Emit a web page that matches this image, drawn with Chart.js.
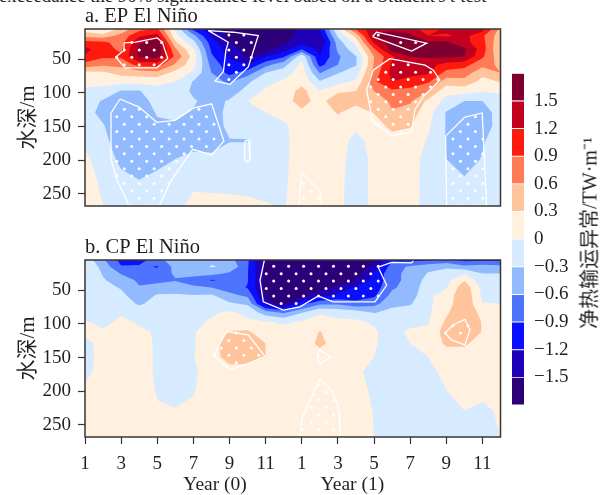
<!DOCTYPE html>
<html>
<head>
<meta charset="utf-8">
<title>net heat transport anomaly</title>
<script src="https://cdn.jsdelivr.net/npm/chart.js@4"></script>
<style>
html, body { margin: 0; padding: 0; background: #fff; overflow: hidden; }
#page { position: relative; width: 603px; height: 495px; overflow: hidden; }
canvas { position: absolute; }
#caption { position: absolute; left: -1px; top: -15px; white-space: nowrap; font: 18.8px "Liberation Serif", serif; color: #231f20; }
#barTitle { position: absolute; left: 588px; top: 233px; white-space: nowrap; font: 20px "Liberation Serif", "Noto Sans CJK SC", serif; color: #231f20; transform: translate(-50%, -50%) rotate(-90deg); }
</style>
</head>
<body>
<div id="page">
  <div id="caption">exceedance the 90% significance level based on a Student's <i>t</i> test</div>
  <canvas id="chartEP" width="510" height="215" style="left:0;top:0"></canvas>
  <canvas id="chartCP" width="510" height="265" style="left:0;top:230px"></canvas>
  <canvas id="chartBar" width="90" height="360" style="left:512px;top:60px"></canvas>
  <div id="barTitle">净热输运异常/TW·m⁻¹</div>
</div>
<script>
const months = [1,2,3,4,5,6,7,8,9,10,11,12,13,14,15,16,17,18,19,20,21,22,23,24];
const depths = [5,15,25,35,46,58,70,83,97,112,129,149,171,198,229,268];
const monthTicks = [1,3,5,7,9,11,13,15,17,19,21,23];
const monthLabels = ['1','3','5','7','9','11','1','3','5','7','9','11'];
const depthTicks = [50,100,150,200,250];
const levels = [-1.5,-1.2,-0.9,-0.6,-0.3,0,0.3,0.6,0.9,1.2,1.5];
const bandColors = ['#2c0078','#2000b8','#0a10ff','#4d73ff','#91baff','#d6ebff','#fff0e0','#ffc49c','#ff7a55','#ff1a10','#c20020','#7f0030'];
const barTicks = [1.5,1.2,0.9,0.6,0.3,0,-0.3,-0.6,-0.9,-1.2,-1.5];
const barEdges = [-1.8,-1.5,-1.2,-0.9,-0.6,-0.3,0,0.3,0.6,0.9,1.2,1.5,1.8];

// one line per month, values by depth
const epValues = [
  [0.15,0.5,1.0,1.3,1.15,0.8,0.2,0.08,-0.05,-0.15,-0.2,-0.15,-0.05,0.05,0.1,0.15],
  [-0.1,0.45,0.95,1.0,0.95,0.65,0.25,0.1,-0.1,-0.33,-0.38,-0.28,-0.2,-0.12,-0.05,0.0],
  [0.4,0.7,0.8,0.85,0.95,0.7,0.4,0.1,-0.32,-0.4,-0.45,-0.5,-0.5,-0.38,-0.22,-0.1],
  [0.8,1.15,1.45,1.58,1.55,1.0,0.45,0.1,-0.32,-0.42,-0.5,-0.52,-0.52,-0.45,-0.3,-0.12],
  [0.95,1.3,1.7,1.8,1.6,1.05,0.5,0.08,-0.1,-0.2,-0.27,-0.36,-0.45,-0.42,-0.2,-0.12],
  [-0.05,0.1,0.35,0.65,0.83,0.55,0.2,0.0,-0.1,-0.15,-0.25,-0.33,-0.42,-0.3,-0.2,-0.05],
  [-1.0,-0.5,-0.2,0.05,0.18,0.1,-0.05,-0.32,-0.36,-0.27,-0.32,-0.45,-0.42,-0.22,-0.04,0.05],
  [-1.35,-1.25,-1.05,-0.95,-0.85,-0.7,-0.6,-0.5,-0.45,-0.4,-0.38,-0.42,-0.4,-0.25,-0.05,0.05],
  [-1.7,-1.6,-1.5,-1.35,-1.25,-1.1,-1.0,-0.65,-0.45,-0.27,-0.25,-0.24,-0.31,-0.2,-0.06,0.05],
  [-1.75,-1.75,-1.7,-1.6,-1.55,-1.2,-0.75,-0.35,-0.2,0.0,-0.1,-0.2,-0.31,-0.2,-0.07,0.04],
  [-1.75,-1.8,-1.75,-1.6,-1.2,-0.7,-0.3,-0.1,0.05,0.1,0.0,-0.1,-0.15,-0.15,-0.1,0.02],
  [-1.6,-1.65,-1.55,-1.35,-0.95,-0.4,-0.15,0.05,0.12,0.2,0.1,-0.05,-0.06,-0.05,-0.04,-0.02],
  [-1.45,-1.4,-1.3,-0.9,-0.08,0.1,0.15,0.2,0.4,0.4,0.25,0.15,0.12,0.12,0.13,0.15],
  [-1.2,-1.35,-1.55,-1.3,-1.2,-1.0,-0.62,-0.28,0.02,0.2,0.12,0.1,0.1,0.1,0.1,0.1],
  [0.05,-0.25,-0.45,-0.55,-0.65,-0.6,-0.32,-0.1,0.25,0.5,0.33,0.15,0.1,0.08,0.06,0.05],
  [0.95,0.4,0.1,-0.1,-0.32,-0.33,-0.12,0.05,0.3,0.4,0.15,0.05,-0.07,-0.1,-0.1,-0.1],
  [1.4,1.55,1.25,0.85,0.6,0.62,0.72,0.85,0.6,0.45,0.32,0.12,0.08,0.05,0.05,0.05],
  [1.45,1.6,1.65,1.65,1.15,1.25,1.3,1.2,0.85,0.65,0.58,0.4,0.15,0.08,0.1,0.1],
  [1.4,1.55,1.7,1.7,1.5,1.3,1.35,1.0,0.85,0.65,0.45,0.32,0.15,0.1,0.1,0.1],
  [0.95,1.2,1.55,1.65,1.55,1.3,1.25,0.95,0.6,0.22,0.12,0.05,-0.03,-0.08,-0.1,-0.1],
  [1.3,1.15,1.55,1.7,1.55,1.1,0.8,0.45,0.1,-0.1,-0.32,-0.32,-0.32,-0.3,-0.2,-0.18],
  [1.35,1.3,1.3,1.55,1.5,1.0,0.75,0.5,0.12,-0.3,-0.55,-0.58,-0.55,-0.45,-0.27,-0.2],
  [1.35,0.95,1.0,1.05,0.95,0.7,0.4,0.2,0.03,-0.3,-0.5,-0.48,-0.33,-0.28,-0.2,-0.15],
  [0.5,0.42,0.35,0.28,0.4,0.55,0.6,0.32,0.02,-0.05,-0.12,-0.15,-0.15,-0.15,-0.12,-0.1]
];
const cpValues = [
  [-0.1,0.03,0.03,-0.05,-0.1,-0.15,-0.15,-0.1,0.02,0.05,-0.08,-0.15,-0.1,0.05,0.1,0.1],
  [-0.55,-0.42,-0.33,-0.27,-0.22,-0.17,-0.13,-0.1,-0.06,0.03,0.1,0.15,0.15,0.15,0.15,0.15],
  [-1.0,-0.88,-0.62,-0.45,-0.32,-0.23,-0.18,-0.03,0.05,0.1,0.15,0.15,0.15,0.15,0.15,0.15],
  [-1.05,-0.85,-0.75,-0.65,-0.58,-0.45,-0.33,-0.18,-0.03,0.05,0.15,0.15,0.15,0.15,0.15,0.15],
  [-0.7,-0.92,-0.8,-0.7,-0.45,-0.27,-0.22,-0.15,-0.1,-0.03,-0.05,-0.05,-0.05,-0.02,0.02,0.05],
  [-0.45,-0.5,-0.55,-0.62,-0.45,-0.25,-0.2,-0.15,-0.12,-0.1,-0.1,-0.1,-0.1,-0.06,0.01,0.05],
  [-0.4,-0.45,-0.5,-0.72,-0.55,-0.28,-0.2,-0.15,-0.1,-0.02,-0.02,-0.01,-0.05,-0.02,0.05,0.08],
  [-0.35,-0.28,-0.5,-0.92,-0.6,-0.25,-0.18,-0.05,0.05,0.12,0.15,0.15,0.15,0.15,0.15,0.15],
  [-0.5,-0.35,-0.65,-0.85,-0.75,-0.5,-0.25,0.05,0.1,0.32,0.5,0.45,0.15,0.12,0.12,0.12],
  [-0.85,-0.87,-0.88,-0.88,-0.92,-0.65,-0.35,-0.08,0.05,0.35,0.55,0.45,0.15,0.12,0.12,0.12],
  [-1.65,-1.65,-1.6,-1.6,-1.6,-1.55,-1.4,-0.45,0.02,0.12,0.3,0.3,0.15,0.12,0.12,0.12],
  [-1.8,-1.8,-1.8,-1.8,-1.8,-1.8,-1.6,-0.65,-0.03,0.08,0.12,0.12,0.12,0.12,0.12,0.12],
  [-1.8,-1.8,-1.8,-1.8,-1.75,-1.6,-1.0,-0.32,0.02,0.08,0.05,0.1,0.1,0.1,0.1,0.1],
  [-1.75,-1.75,-1.75,-1.75,-1.65,-1.3,-0.65,-0.02,0.08,0.32,0.4,0.1,0.1,0.1,0.1,0.1],
  [-1.75,-1.75,-1.75,-1.65,-1.45,-1.1,-0.65,-0.08,0.05,0.1,0.1,0.1,0.1,0.1,0.1,0.1],
  [-1.75,-1.75,-1.7,-1.5,-1.15,-1.05,-0.8,-0.15,0.05,0.1,0.1,0.1,0.05,0.1,0.1,0.1],
  [-1.55,-1.4,-1.15,-1.1,-1.05,-0.95,-0.7,-0.32,-0.03,0.03,0.03,0.0,-0.08,-0.05,-0.01,0.0],
  [-0.95,-0.75,-0.7,-0.72,-0.65,-0.5,-0.38,-0.2,-0.1,-0.1,-0.12,-0.12,-0.15,-0.15,-0.12,-0.1],
  [-1.0,-0.55,-0.5,-0.48,-0.45,-0.45,-0.33,-0.15,-0.08,0.05,0.0,-0.05,-0.1,-0.15,-0.15,-0.15],
  [-0.95,-0.4,-0.28,-0.2,-0.15,-0.05,-0.05,-0.05,-0.02,0.05,0.1,0.0,-0.05,-0.1,-0.12,-0.15],
  [-0.8,-0.35,-0.15,-0.1,-0.02,0.12,0.15,0.25,0.35,0.45,0.35,0.15,0.05,0.0,-0.1,-0.15],
  [-1.0,-0.5,-0.02,0.28,0.5,0.55,0.55,0.55,0.55,0.6,0.35,0.15,0.1,0.05,0.0,-0.1],
  [-0.95,-0.45,-0.3,-0.2,-0.1,-0.05,0.01,0.2,0.28,0.28,0.15,0.1,0.08,0.04,-0.03,-0.1],
  [-0.95,-0.5,-0.3,-0.2,-0.15,-0.1,0.0,0.05,0.05,0.05,0.05,0.05,0.05,0.03,0.02,0.0]
];

// significance outlines, [month, depth]
const epOutlines = [
  [[3.16,25.5],[3.8,24.5],[5,18.3],[5.28,24.5],[5.58,49],[4.97,62.7],[3.21,62.7],[2.7,46.6],[3.16,36.8],[3.16,25.5]],
  [[7.83,7.4],[8.93,24.6],[8.8,36.8],[8.66,68.6],[8.2,82.4],[9.03,87.2],[10.04,61.3],[10.59,14.7],[9.21,9.8],[7.83,7.4]],
  [[2.94,109],[4,121],[4.97,143.7],[5.98,140.7],[7,122.6],[8.01,116.2],[8.69,171.6],[8.01,192.2],[6.96,183.8],[5.7,232.9],[5.11,268],[3.45,268],[2.75,228],[2.44,198.5],[2.44,129.8],[2.94,109]],
  [[9.95,170],[10.08,171.6],[10.13,200],[9.99,202.5],[9.82,198.5],[9.86,171.6],[9.95,170]],
  [[16.92,16.2],[17.14,9.8],[19.91,26],[19.08,37.8],[16.92,16.2]],
  [[17.88,49],[19.82,58.8],[20.28,66.2],[20.65,80.9],[19.72,105.4],[19.26,125],[19.08,158.4],[17.97,163.2],[16.92,142.2],[16.59,95.6],[16.95,66.2],[17.88,49]],
  [[22.03,135.8],[22.99,129.8],[23.23,268],[21.02,268],[20.96,164.2],[22.03,135.8]],
  [[12.99,218],[14,245],[14.09,268],[12.84,268],[12.99,218]]
];
const cpOutlines = [
  [[10.93,5],[10.69,35.3],[10.87,67.2],[11.98,79.4],[12.9,74.5],[13.91,58.3],[14.74,67.2],[17.05,67.2],[17.7,42.6],[17.23,15.7],[17.97,8.4],[19.08,9.3],[19.2,5]],
  [[8.1,147],[8.84,111.3],[10.04,116.2],[10.96,148],[10.13,157.8],[9.03,167.6],[8.1,147]],
  [[13.97,138.2],[14.61,149],[14,159.3],[13.86,150.4],[13.97,138.2]],
  [[14,180.9],[14.74,201.9],[15.07,229],[15.11,268],[12.9,268],[12.99,241.2],[14,180.9]],
  [[20.92,113.7],[21.38,101.5],[22.03,93.1],[22.31,108.8],[22.03,131],[21.29,123.6],[20.92,113.7]]
];

const textColor = '#231f20';
const frameColor = '#3a3433';
const serif = '"Liberation Serif", "Noto Sans CJK SC", serif';

function clipAbove(poly, level) {
    const out = [];
    for (let i = 0; i < poly.length; i++) {
        const a = poly[i];
        const b = poly[(i + 1) % poly.length];
        if (a.z >= level) out.push(a);
        if ((a.z >= level) !== (b.z >= level)) {
            const t = (level - a.z) / (b.z - a.z);
            out.push({ x: a.x + (b.x - a.x) * t, y: a.y + (b.y - a.y) * t, z: level });
        }
    }
    return out;
}

const contourFill = {
    id: 'contourFill',
    beforeDatasetsDraw(chart) {
        const ctx = chart.ctx;
        const xs = chart.scales.x;
        const ys = chart.scales.y;
        const grid = chart.data.datasets[0].data;
        const rows = depths.length;
        const area = chart.chartArea;
        ctx.save();
        ctx.fillStyle = bandColors[0];
        ctx.fillRect(area.left, area.top, area.width, area.height);
        levels.forEach((level, n) => {
            ctx.beginPath();
            for (let c = 0; c < months.length - 1; c++) {
                for (let r = 0; r < rows - 1; r++) {
                    const cell = [grid[c * rows + r], grid[(c + 1) * rows + r], grid[(c + 1) * rows + r + 1], grid[c * rows + r + 1]];
                    const poly = clipAbove(cell, level);
                    poly.forEach((p, i) => {
                        const px = xs.getPixelForValue(p.x);
                        const py = ys.getPixelForValue(p.y);
                        if (i === 0) ctx.moveTo(px, py); else ctx.lineTo(px, py);
                    });
                    if (poly.length) ctx.closePath();
                }
            }
            ctx.fillStyle = bandColors[n + 1];
            ctx.fill();
        });
        ctx.restore();
    },
    afterDatasetsDraw(chart, args, opts) {
        const ctx = chart.ctx;
        const area = chart.chartArea;
        ctx.save();
        ctx.strokeStyle = frameColor;
        ctx.lineWidth = 1.5;
        ctx.strokeRect(area.left, area.top, area.width, area.height);
        ctx.fillStyle = textColor;
        ctx.font = '20.5px ' + serif;
        ctx.textBaseline = 'alphabetic';
        ctx.fillText(opts.label, area.left, area.top - 7);
        ctx.textAlign = 'center';
        ctx.font = '19.5px ' + serif;
        (opts.years || []).forEach(y => {
            ctx.fillText(y.text, chart.scales.x.getPixelForValue(y.month), area.bottom + 53);
        });
        ctx.restore();
    }
};

function inside(poly, x, y) {
    let hit = false;
    for (let i = 0, j = poly.length - 1; i < poly.length; j = i++) {
        const a = poly[i], b = poly[j];
        if ((a[1] > y) !== (b[1] > y) && x < (b[0] - a[0]) * (y - a[1]) / (b[1] - a[1]) + a[0]) hit = !hit;
    }
    return hit;
}

// stipple sits on a staggered lattice, kept only inside the outlines
function stipple(outlines, baseDepth) {
    const pts = [];
    for (let k = -12; k < 30; k++) {
        const depth = baseDepth + k * 11.03;
        for (let n = -6; n < 60; n++) {
            if ((n + k) % 2 !== 0) continue;
            const month = 3.175 + n * 0.4135;
            if (outlines.some(o => inside(o, month, depth))) pts.push({ x: month, y: depth });
        }
    }
    return pts;
}

function panel(id, values, outlines, baseDepth, label, showX, years) {
    const grid = [];
    months.forEach((m, c) => depths.forEach((d, r) => grid.push({ x: m, y: d, z: values[c][r] })));
    const datasets = [{ type: 'scatter', data: grid, pointRadius: 0, showLine: false }];
    outlines.forEach(o => datasets.push({
        type: 'scatter',
        data: o.map(p => ({ x: p[0], y: p[1] })),
        showLine: true, borderColor: '#fff', borderWidth: 1.3, pointRadius: 0, tension: 0
    }));
    datasets.push({ type: 'scatter', data: stipple(outlines, baseDepth), pointRadius: 1.5, pointBackgroundColor: '#fff', pointBorderWidth: 0 });
    return new Chart(document.getElementById(id), {
        type: 'scatter',
        data: { datasets: datasets },
        plugins: [contourFill],
        options: {
            responsive: false,
            animation: false,
            events: [],
            layout: { padding: { top: showX ? 30 : 29, right: 9.5, bottom: showX ? 0 : 9 } },
            plugins: {
                legend: { display: false },
                tooltip: { enabled: false },
                contourFill: { label: label, years: years }
            },
            scales: {
                x: {
                    type: 'linear', min: 1, max: 24, display: showX,
                    grid: { display: showX, drawOnChartArea: false, tickLength: 7, tickColor: frameColor, tickWidth: 1.2 },
                    border: { display: false },
                    afterBuildTicks: s => { s.ticks = monthTicks.map(v => ({ value: v })); },
                    afterTickToLabelConversion: s => { s.ticks.forEach((t, i) => { t.label = monthLabels[i]; }); },
                    afterFit: s => { if (showX) s.height = 58; s.paddingLeft = 0; s.paddingRight = 0; },
                    ticks: { autoSkip: false, maxRotation: 0, color: textColor, font: { family: serif, size: 19 }, padding: 9 },
                },
                y: {
                    type: 'linear', reverse: true, min: 5, max: 268,
                    grid: { drawOnChartArea: false, tickLength: 7, tickColor: frameColor, tickWidth: 1.2 },
                    border: { display: false },
                    afterBuildTicks: s => { s.ticks = depthTicks.map(v => ({ value: v })); },
                    afterFit: s => { s.width = 85; s.paddingTop = 0; s.paddingBottom = 0; },
                    title: { display: true, text: '水深/m', color: textColor, font: { family: serif, size: 21 }, padding: { top: 16, bottom: 0 } },
                    ticks: { color: textColor, font: { family: serif, size: 19 }, padding: 7 }
                }
            }
        }
    });
}

document.addEventListener('DOMContentLoaded', () => {
    panel('chartEP', epValues, epOutlines, 124.3, 'a. EP El Niño', false);
    panel('chartCP', cpValues, cpOutlines, 14.3, 'b. CP El Niño', true, [
        { text: 'Year (0)', month: 8.2 },
        { text: 'Year (1)', month: 15.8 }
    ]);

    new Chart(document.getElementById('chartBar'), {
        type: 'bar',
        data: {
            labels: ['net'],
            datasets: bandColors.map((c, i) => ({
                data: [[barEdges[i], barEdges[i + 1]]],
                backgroundColor: c,
                borderColor: '#fff',
                borderWidth: { top: 0.8, bottom: 0.8 },
                borderSkipped: false,
                barPercentage: 1,
                categoryPercentage: 1
            }))
        },
        options: {
            responsive: false,
            animation: false,
            events: [],
            layout: { padding: { top: 13.3, bottom: 15 } },
            plugins: { legend: { display: false }, tooltip: { enabled: false } },
            scales: {
                x: { display: false, stacked: true },
                y: {
                    position: 'right', min: -1.8, max: 1.8,
                    grid: { display: false, drawTicks: false },
                    border: { display: false },
                    afterBuildTicks: s => { s.ticks = barTicks.map(v => ({ value: v })); },
                    afterTickToLabelConversion: s => {
                        s.ticks.forEach((t, i) => { t.label = String(barTicks[i].toFixed(barTicks[i] === 0 ? 0 : 1)).replace('-', '−'); });
                    },
                    afterFit: s => { s.width = 78; s.paddingTop = 0; s.paddingBottom = 0; },
                    ticks: { autoSkip: false, color: textColor, font: { family: serif, size: 19 }, padding: 10 }
                }
            }
        }
    });
});
</script>
</body>
</html>
